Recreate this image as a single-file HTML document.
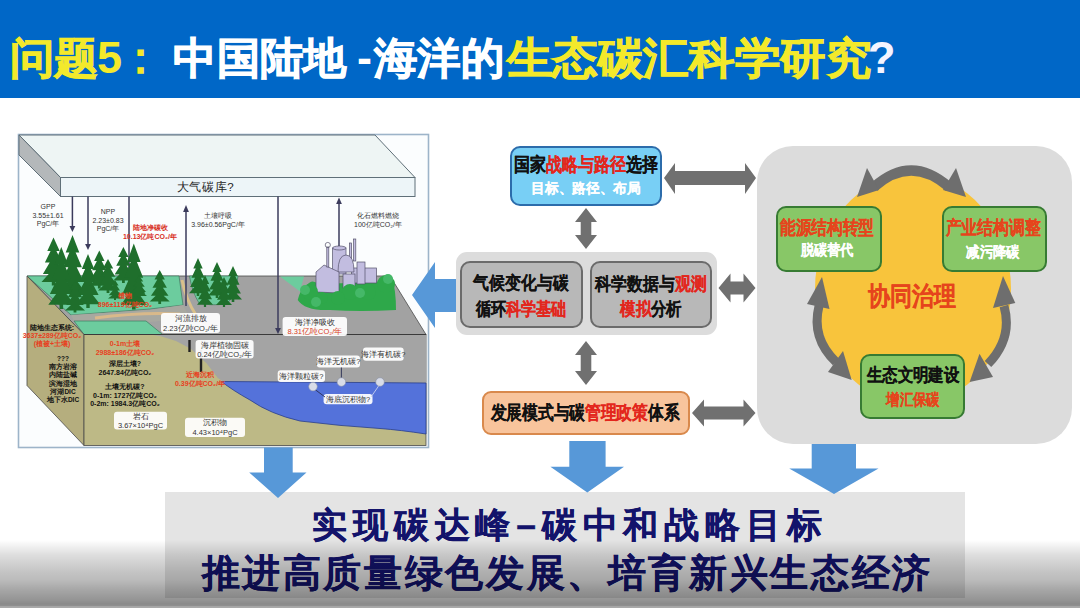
<!DOCTYPE html>
<html><head><meta charset="utf-8">
<style>
html,body{margin:0;padding:0;}
body{width:1080px;height:608px;overflow:hidden;position:relative;background:#ffffff;font-family:"Liberation Sans",sans-serif;}
.abs{position:absolute;}
#hdr{left:0;top:0;width:1080px;height:98px;background:#0067c7;}
#title{left:10px;top:26px;font-size:45px;font-weight:bold;color:#ffffff;white-space:nowrap;line-height:64px;}
.y{color:#f3e92b;}
.r{color:#e3261c;}
.k{color:#111111;}
.w{color:#ffffff;}
.bx{position:absolute;box-sizing:border-box;}
.ln{position:absolute;white-space:nowrap;text-align:center;font-weight:bold;transform-origin:50% 50%;}
#bb{left:165px;top:492px;width:800px;height:106px;background:#e4e4e4;}
#shade{left:0;top:540px;width:1080px;height:68px;background:linear-gradient(to bottom,rgba(0,0,0,0) 0px,rgba(0,0,0,0.07) 8px,rgba(0,0,0,0.13) 15px,rgba(0,0,0,0.185) 24px,rgba(0,0,0,0.23) 32px,rgba(0,0,0,0.265) 40px,rgba(0,0,0,0.35) 50px,rgba(0,0,0,0.42) 60px,rgba(0,0,0,0.46) 64px,rgba(0,0,0,0.44) 65.5px,rgba(0,0,0,0.35) 66.5px,rgba(0,0,0,0.33) 68px);}
</style></head>
<body>
<div id="hdr" class="abs"></div>
<div id="bb" class="abs"></div>
<div class="abs" style="left:97px;top:30px;width:30px;font-size:45px;line-height:56px;font-weight:bold;color:#f3e92b;transform:scaleX(1.0);">5</div>
<div class="abs" style="left:118px;top:30px;width:30px;font-size:45px;line-height:56px;font-weight:bold;color:#f3e92b;">：</div>
<div class="abs" style="left:357px;top:30px;width:20px;font-size:45px;line-height:56px;font-weight:bold;color:#fff;">-</div>
<div class="abs" style="left:868px;top:30px;width:30px;font-size:45px;line-height:56px;font-weight:bold;color:#f4f4ff;">?</div>

<svg class="abs" style="left:0;top:0" width="1080" height="608" viewBox="0 0 1080 608">
  <!-- DIAGRAM -->
  <g id="diagram">
<rect x="18.5" y="134.5" width="410" height="313" fill="#fbfdfe" stroke="#9db4c9" stroke-width="1.6"/>
<polygon points="19,135 375,135 415,177.5 60.5,177.5" fill="#eef5f4" stroke="#5f6f78" stroke-width="1"/>
<polygon points="19,135 60.5,177.5 60.5,196.5 19,155" fill="#b4b8ba" stroke="#5f6f78" stroke-width="1"/>
<rect x="60.5" y="177.5" width="354.5" height="19" fill="#edf5f8" stroke="#5f6f78" stroke-width="1"/>
<text x="205.5" y="190.5" font-size="11.5" letter-spacing="0.6" fill="#222" text-anchor="middle" font-family="Liberation Sans, sans-serif">大气碳库?</text>
<polygon points="27,276 390,276 426,334.5 84,334.5" fill="#a2a2a2" stroke="#4a4a4a" stroke-width="0.8"/>
<polygon points="27,276 179,276 183,305 150,309 71,315" fill="#6ccc9e" stroke="#3e7a5e" stroke-width="0.7"/>
<polygon points="71,315 150,310 183,305 190,318 150,322 74,321" fill="#a8a8a0"/>
<path d="M95,318 Q140,312 180,314" stroke="#d9b98a" stroke-width="3" fill="none"/>
<path d="M182,280 Q186,300 196,315" stroke="#d9c08a" stroke-width="3" fill="none"/>
<polygon points="74,321 146,321 162.6,334.5 84,334.5" fill="#6ccc9e" stroke="#3e7a5e" stroke-width="0.7"/>
<path d="M189.5,276 L238,276 Q236,296 226.5,304 Q210,306 199,303 Q192,292 189.5,276 Z" fill="#6ccc9e" stroke="#3e7a5e" stroke-width="0.7"/>
<polygon points="280,276.5 304,276.5 300,291.5" fill="#6ccc9e"/>
<polygon points="27,276 84,334.5 84,445.5 27,385.5" fill="#b5ae7e" stroke="#4a4a4a" stroke-width="0.8"/>
<rect x="84" y="334.5" width="342" height="111" fill="#bdb986" stroke="#4a4a4a" stroke-width="0.8"/>
<polygon points="150,334.5 426,334.5 426,383 224,382 217.8,378 206.7,363.5 190.7,348.7 176,341 160,336" fill="#a4a4a4"/>
<path d="M221.5,381.5 L426,383 L426,434 Q400,430 380,428.5 Q340,426 300,421 Q270,414 250,400 Q232,390 221.5,381.5 Z" fill="#5472da" stroke="#2a3f8a" stroke-width="0.8"/>
<line x1="84" y1="334.5" x2="426" y2="334.5" stroke="#3a3a3a" stroke-width="1"/>
<path d="M189.5,340 L189.5,352 M201,350 L201,372" stroke="#222" stroke-width="2.4"/>
<line x1="129" y1="196.5" x2="129" y2="290" stroke="#3b3b5c" stroke-width="1.5"/>
<polygon fill="#1f6f2c" points="53.5,237.5 59.7,250.9 56.4,250.9 62.1,262.5 57.3,262.5 64.1,274.0 58.3,274.0 65.5,282.1 55.2,282.1 55.2,285.5 51.8,285.5 51.8,282.1 41.5,282.1 48.7,274.0 42.9,274.0 49.7,262.5 44.9,262.5 50.6,250.9 47.3,250.9"/>
<polygon fill="#1f6f2c" points="72.5,235.0 79.3,252.4 75.6,252.4 81.9,267.2 76.7,267.2 83.9,282.1 77.7,282.1 85.5,292.7 74.3,292.7 74.3,297.0 70.7,297.0 70.7,292.7 59.5,292.7 67.3,282.1 61.1,282.1 68.3,267.2 63.1,267.2 69.4,252.4 65.7,252.4"/>
<polygon fill="#1f6f2c" points="61.3,247.0 68.1,264.4 64.4,264.4 70.7,279.2 65.5,279.2 72.7,294.1 66.5,294.1 74.3,304.7 63.1,304.7 63.1,309.0 59.5,309.0 59.5,304.7 48.3,304.7 56.1,294.1 49.9,294.1 57.1,279.2 51.9,279.2 58.2,264.4 54.5,264.4"/>
<polygon fill="#1f6f2c" points="88.0,254.0 94.2,269.1 90.9,269.1 96.6,282.1 91.8,282.1 98.6,295.0 92.8,295.0 100.0,304.2 89.7,304.2 89.7,308.0 86.3,308.0 86.3,304.2 76.0,304.2 83.2,295.0 77.4,295.0 84.2,282.1 79.4,282.1 85.1,269.1 81.8,269.1"/>
<polygon fill="#1f6f2c" points="99.3,250.4 104.5,261.0 101.7,261.0 106.5,270.2 102.5,270.2 108.1,279.3 103.3,279.3 109.3,285.7 100.7,285.7 100.7,288.4 97.9,288.4 97.9,285.7 89.3,285.7 95.3,279.3 90.5,279.3 96.1,270.2 92.1,270.2 96.9,261.0 94.1,261.0"/>
<polygon fill="#1f6f2c" points="108.0,259.0 113.2,268.5 110.4,268.5 115.2,276.7 111.2,276.7 116.8,284.8 112.0,284.8 118.0,290.6 109.4,290.6 109.4,293.0 106.6,293.0 106.6,290.6 98.0,290.6 104.0,284.8 99.2,284.8 104.8,276.7 100.8,276.7 105.6,268.5 102.8,268.5"/>
<polygon fill="#1f6f2c" points="123.4,247.0 128.6,257.1 125.8,257.1 130.6,265.7 126.6,265.7 132.2,274.4 127.4,274.4 133.4,280.5 124.8,280.5 124.8,283.0 122.0,283.0 122.0,280.5 113.4,280.5 119.4,274.4 114.6,274.4 120.2,265.7 116.2,265.7 121.0,257.1 118.2,257.1"/>
<polygon fill="#1f6f2c" points="133.8,243.5 140.6,262.0 136.9,262.0 143.2,277.8 138.0,277.8 145.2,293.7 139.0,293.7 146.8,304.9 135.6,304.9 135.6,309.5 132.0,309.5 132.0,304.9 120.8,304.9 128.6,293.7 122.4,293.7 129.6,277.8 124.4,277.8 130.7,262.0 127.0,262.0"/>
<polygon fill="#1f6f2c" points="159.7,270.0 164.9,279.5 162.1,279.5 166.9,287.7 162.9,287.7 168.5,295.8 163.7,295.8 169.7,301.6 161.1,301.6 161.1,304.0 158.3,304.0 158.3,301.6 149.7,301.6 155.7,295.8 150.9,295.8 156.5,287.7 152.5,287.7 157.3,279.5 154.5,279.5"/>
<polygon fill="#1f6f2c" points="75.0,280.6 80.2,289.6 77.4,289.6 82.2,297.2 78.2,297.2 83.8,304.9 79.0,304.9 85.0,310.4 76.4,310.4 76.4,312.6 73.6,312.6 73.6,310.4 65.0,310.4 71.0,304.9 66.2,304.9 71.8,297.2 67.8,297.2 72.6,289.6 69.8,289.6"/>
<polygon fill="#1f6f2c" points="139.0,275.4 143.2,281.6 140.9,281.6 144.8,286.8 141.6,286.8 146.0,292.1 142.2,292.1 147.0,295.9 140.1,295.9 140.1,297.4 137.9,297.4 137.9,295.9 131.0,295.9 135.8,292.1 132.0,292.1 136.4,286.8 133.2,286.8 137.1,281.6 134.8,281.6"/>
<polygon fill="#1f6f2c" points="115.0,280.0 118.6,285.6 116.7,285.6 120.0,290.4 117.2,290.4 121.2,295.2 117.8,295.2 122.0,298.6 116.0,298.6 116.0,300.0 114.0,300.0 114.0,298.6 108.0,298.6 112.2,295.2 108.8,295.2 112.8,290.4 110.0,290.4 113.3,285.6 111.4,285.6"/>
<polygon fill="#1f6f2c" points="198.0,258.0 202.7,268.6 200.2,268.6 204.5,277.8 200.9,277.8 205.9,286.9 201.6,286.9 207.0,293.3 199.3,293.3 199.3,296.0 196.7,296.0 196.7,293.3 189.0,293.3 194.4,286.9 190.1,286.9 195.1,277.8 191.5,277.8 195.8,268.6 193.3,268.6"/>
<polygon fill="#1f6f2c" points="217.0,262.0 221.7,272.1 219.2,272.1 223.5,280.7 219.9,280.7 224.9,289.4 220.6,289.4 226.0,295.5 218.3,295.5 218.3,298.0 215.7,298.0 215.7,295.5 208.0,295.5 213.4,289.4 209.1,289.4 214.1,280.7 210.5,280.7 214.8,272.1 212.3,272.1"/>
<polygon fill="#1f6f2c" points="233.0,266.0 237.7,276.1 235.2,276.1 239.5,284.7 235.9,284.7 240.9,293.4 236.6,293.4 242.0,299.5 234.3,299.5 234.3,302.0 231.7,302.0 231.7,299.5 224.0,299.5 229.4,293.4 225.1,293.4 230.1,284.7 226.5,284.7 230.8,276.1 228.3,276.1"/>
<polygon fill="#1f6f2c" points="205.0,275.0 209.2,284.0 206.9,284.0 210.8,291.6 207.6,291.6 212.0,299.3 208.2,299.3 213.0,304.8 206.1,304.8 206.1,307.0 203.9,307.0 203.9,304.8 197.0,304.8 201.8,299.3 198.0,299.3 202.4,291.6 199.2,291.6 203.1,284.0 200.8,284.0"/>
<polygon fill="#1f6f2c" points="224.0,277.0 228.2,285.4 225.9,285.4 229.8,292.6 226.6,292.6 231.0,299.8 227.2,299.8 232.0,304.9 225.1,304.9 225.1,307.0 222.9,307.0 222.9,304.9 216.0,304.9 220.8,299.8 217.0,299.8 221.4,292.6 218.2,292.6 222.1,285.4 219.8,285.4"/>
<path d="M297.7,300 Q300,290 306,286 Q312,278 318,284 L380,282 Q386,272 392,278 Q396,290 396,310 Q360,312 330,310 Q305,311 297.7,300 Z" fill="#2ea84a"/>
<g fill="#c2bde0" stroke="#55526a" stroke-width="0.7"><rect x="351.5" y="268" width="25" height="15"/><rect x="349.4" y="243" width="2.2" height="16"/><rect x="353.6" y="239" width="2.2" height="22"/><rect x="332.6" y="248" width="13.4" height="26"/><ellipse cx="339.3" cy="248" rx="6.7" ry="2"/><path d="M338,272 Q338,255 346,255 Q354,255 354,272 Z"/><rect x="357" y="262" width="8" height="22"/><polygon points="316,292 316,272 324,265 339,272 339,293"/><rect x="326.8" y="247" width="2" height="20"/><circle cx="327.8" cy="245" r="2.6" fill="none"/><rect x="343" y="274" width="12" height="14"/></g>
<g fill="#2ea84a"><circle cx="310" cy="292" r="8"/><circle cx="386" cy="284" r="9"/><circle cx="350" cy="292" r="8"/><circle cx="338" cy="298" r="7"/><circle cx="368" cy="292" r="8"/><circle cx="322" cy="298" r="6"/></g>
<g fill="#45b868"><circle cx="305" cy="290" r="5"/><circle cx="388" cy="279" r="5"/><circle cx="360" cy="293" r="5"/><circle cx="316" cy="302" r="5"/></g>
<g stroke="#3b3b5c" stroke-width="1.5" fill="#3b3b5c"><line x1="72.4" y1="196.5" x2="72.4" y2="228"/><polygon points="69.5,226 75.3,226 72.4,232" stroke="none"/><line x1="88" y1="196.5" x2="88" y2="246"/><polygon points="85.1,244 90.9,244 88,250" stroke="none"/><line x1="186" y1="210" x2="186" y2="306"/><polygon points="183.1,212 188.9,212 186,205" stroke="none"/><line x1="278" y1="196.5" x2="278" y2="330"/><polygon points="275.1,328 280.9,328 278,334" stroke="none"/><line x1="339" y1="202" x2="339" y2="246"/><polygon points="336.1,204 341.9,204 339,197.5" stroke="none"/></g>
<rect x="161.0" y="313.0" width="59.0" height="20.0" rx="3" fill="#ffffff" fill-opacity="0.93"/><text x="190.5" y="320.9" font-size="7.5" fill="#333" text-anchor="middle" font-family="Liberation Sans, sans-serif">河流排放</text><text x="190.5" y="330.9" font-size="7.5" fill="#333" text-anchor="middle" font-family="Liberation Sans, sans-serif">2.23亿吨CO₂/年</text>
<rect x="282.6" y="317.0" width="64.4" height="19.0" rx="3" fill="#ffffff" fill-opacity="0.93"/><text x="314.8" y="324.6" font-size="7.5" fill="#333" text-anchor="middle" font-family="Liberation Sans, sans-serif">海洋净吸收</text><text x="314.8" y="334.1" font-size="7.5" fill="#d83a20" text-anchor="middle" font-family="Liberation Sans, sans-serif">8.31亿吨CO₂/年</text>
<rect x="195.6" y="340.0" width="58.0" height="18.6" rx="3" fill="#ffffff" fill-opacity="0.93"/><text x="224.6" y="347.5" font-size="7.5" fill="#333" text-anchor="middle" font-family="Liberation Sans, sans-serif">海岸植物固碳</text><text x="224.6" y="356.8" font-size="7.5" fill="#333" text-anchor="middle" font-family="Liberation Sans, sans-serif">0.24亿吨CO₂/年</text>
<rect x="316.8" y="355.5" width="43.2" height="11.9" rx="3" fill="#ffffff" fill-opacity="0.93"/><text x="338.4" y="364.3" font-size="7.5" fill="#333" text-anchor="middle" font-family="Liberation Sans, sans-serif">海洋无机碳?</text>
<rect x="363.0" y="347.6" width="40.7" height="13.2" rx="3" fill="#ffffff" fill-opacity="0.93"/><text x="383.4" y="357.1" font-size="7.5" fill="#333" text-anchor="middle" font-family="Liberation Sans, sans-serif">海洋有机碳?</text>
<rect x="277.7" y="370.3" width="47.3" height="11.7" rx="3" fill="#ffffff" fill-opacity="0.93"/><text x="301.4" y="379.0" font-size="7.5" fill="#333" text-anchor="middle" font-family="Liberation Sans, sans-serif">海洋颗粒碳?</text>
<rect x="323.6" y="394.0" width="48.9" height="10.3" rx="3" fill="#ffffff" fill-opacity="0.93"/><text x="348.1" y="402.0" font-size="7.5" fill="#333" text-anchor="middle" font-family="Liberation Sans, sans-serif">海底沉积物?</text>
<rect x="114.0" y="411.7" width="53.0" height="17.8" rx="3" fill="#ffffff" fill-opacity="0.93"/><text x="140.5" y="419.0" font-size="7.5" fill="#333" text-anchor="middle" font-family="Liberation Sans, sans-serif">岩石</text><text x="140.5" y="427.9" font-size="7.5" fill="#333" text-anchor="middle" font-family="Liberation Sans, sans-serif">3.67×10⁴PgC</text>
<rect x="185.0" y="417.7" width="60.0" height="19.3" rx="3" fill="#ffffff" fill-opacity="0.93"/><text x="215.0" y="425.4" font-size="7.5" fill="#333" text-anchor="middle" font-family="Liberation Sans, sans-serif">沉积物</text><text x="215.0" y="435.0" font-size="7.5" fill="#333" text-anchor="middle" font-family="Liberation Sans, sans-serif">4.43×10⁴PgC</text>
<g stroke="#2a2f55" stroke-width="0.9" fill="none"><path d="M313,388 L325,397"/><path d="M341.4,382 L341.4,367.5"/><path d="M380,384 L371,397" stroke="#c8d0ee"/></g>
<g fill="#d8dce8" stroke="#8890a8" stroke-width="0.6"><circle cx="313" cy="386.6" r="4.3"/><circle cx="341.4" cy="382" r="4.3"/><circle cx="380" cy="382" r="4.3"/></g>
<text x="48.0" y="209.0" font-size="7.0" fill="#333" text-anchor="middle" font-weight="normal" font-family="Liberation Sans, sans-serif">GPP</text><text x="48.0" y="217.5" font-size="7.0" fill="#333" text-anchor="middle" font-weight="normal" font-family="Liberation Sans, sans-serif">3.55±1.61</text><text x="48.0" y="226.0" font-size="7.0" fill="#333" text-anchor="middle" font-weight="normal" font-family="Liberation Sans, sans-serif">PgC/年</text>
<text x="108.0" y="214.0" font-size="7.0" fill="#333" text-anchor="middle" font-weight="normal" font-family="Liberation Sans, sans-serif">NPP</text><text x="108.0" y="222.5" font-size="7.0" fill="#333" text-anchor="middle" font-weight="normal" font-family="Liberation Sans, sans-serif">2.23±0.83</text><text x="108.0" y="231.0" font-size="7.0" fill="#333" text-anchor="middle" font-weight="normal" font-family="Liberation Sans, sans-serif">PgC/年</text>
<text x="150.0" y="230.0" font-size="7.0" fill="#d8301e" text-anchor="middle" font-weight="bold" font-family="Liberation Sans, sans-serif">陆地净碳收</text><text x="150.0" y="238.5" font-size="7.0" fill="#d8301e" text-anchor="middle" font-weight="bold" font-family="Liberation Sans, sans-serif">10.13亿吨CO₂/年</text>
<text x="218.0" y="218.0" font-size="7.0" fill="#333" text-anchor="middle" font-weight="normal" font-family="Liberation Sans, sans-serif">土壤呼吸</text><text x="218.0" y="226.5" font-size="7.0" fill="#333" text-anchor="middle" font-weight="normal" font-family="Liberation Sans, sans-serif">3.96±0.56PgC/年</text>
<text x="378.0" y="218.0" font-size="7.0" fill="#333" text-anchor="middle" font-weight="normal" font-family="Liberation Sans, sans-serif">化石燃料燃烧</text><text x="378.0" y="226.5" font-size="7.0" fill="#333" text-anchor="middle" font-weight="normal" font-family="Liberation Sans, sans-serif">100亿吨CO₂/年</text>
<text x="125.0" y="298.0" font-size="7.0" fill="#e8401e" text-anchor="middle" font-weight="bold" font-family="Liberation Sans, sans-serif">植物</text><text x="125.0" y="306.5" font-size="7.0" fill="#e8401e" text-anchor="middle" font-weight="bold" font-family="Liberation Sans, sans-serif">896±119亿吨CO₂</text>
<text x="52.0" y="330.0" font-size="7.0" fill="#111" text-anchor="middle" font-weight="bold" font-family="Liberation Sans, sans-serif">陆地生态系统:</text><text x="52.0" y="338.0" font-size="7.0" fill="#e8401e" text-anchor="middle" font-weight="bold" font-family="Liberation Sans, sans-serif">3637±289亿吨CO₂</text><text x="52.0" y="346.0" font-size="7.0" fill="#e8401e" text-anchor="middle" font-weight="bold" font-family="Liberation Sans, sans-serif">(植被+土壤)</text>
<text x="125.0" y="346.0" font-size="7.0" fill="#e8401e" text-anchor="middle" font-weight="bold" font-family="Liberation Sans, sans-serif">0-1m土壤</text><text x="125.0" y="354.5" font-size="7.0" fill="#e8401e" text-anchor="middle" font-weight="bold" font-family="Liberation Sans, sans-serif">2988±186亿吨CO₂</text>
<text x="125.0" y="366.0" font-size="7.0" fill="#111" text-anchor="middle" font-weight="bold" font-family="Liberation Sans, sans-serif">深层土壤?</text><text x="125.0" y="374.5" font-size="7.0" fill="#111" text-anchor="middle" font-weight="bold" font-family="Liberation Sans, sans-serif">2647.84亿吨CO₂</text>
<text x="63.0" y="361.0" font-size="6.5" fill="#111" text-anchor="middle" font-weight="bold" font-family="Liberation Sans, sans-serif">???</text><text x="63.0" y="369.2" font-size="6.5" fill="#111" text-anchor="middle" font-weight="bold" font-family="Liberation Sans, sans-serif">南方岩溶</text><text x="63.0" y="377.4" font-size="6.5" fill="#111" text-anchor="middle" font-weight="bold" font-family="Liberation Sans, sans-serif">内陆盐碱</text><text x="63.0" y="385.6" font-size="6.5" fill="#111" text-anchor="middle" font-weight="bold" font-family="Liberation Sans, sans-serif">滨海湿地</text><text x="63.0" y="393.8" font-size="6.5" fill="#111" text-anchor="middle" font-weight="bold" font-family="Liberation Sans, sans-serif">河湖DIC</text><text x="63.0" y="402.0" font-size="6.5" fill="#111" text-anchor="middle" font-weight="bold" font-family="Liberation Sans, sans-serif">地下水DIC</text>
<text x="125.0" y="389.0" font-size="7.0" fill="#111" text-anchor="middle" font-weight="bold" font-family="Liberation Sans, sans-serif">土壤无机碳?</text><text x="125.0" y="397.5" font-size="7.0" fill="#111" text-anchor="middle" font-weight="bold" font-family="Liberation Sans, sans-serif">0-1m: 1727亿吨CO₂</text><text x="125.0" y="406.0" font-size="7.0" fill="#111" text-anchor="middle" font-weight="bold" font-family="Liberation Sans, sans-serif">0-2m: 1984.3亿吨CO₂</text>
<text x="200.0" y="377.0" font-size="7.0" fill="#e8401e" text-anchor="middle" font-weight="bold" font-family="Liberation Sans, sans-serif">近海沉积</text><text x="200.0" y="385.5" font-size="7.0" fill="#e8401e" text-anchor="middle" font-weight="bold" font-family="Liberation Sans, sans-serif">0.39亿吨CO₂/年</text>
</g><!--END DIAGRAM-->
  <!-- blue arrows -->
  <g fill="#5798d8">
    <polygon points="412,295 435,262 435,279 456,279 456,312 435,312 435,328"/>
    <polygon points="264,447.5 292.7,447.5 292.7,472.6 306.5,472.6 278,498 249.2,472.6 264,472.6"/>
    <polygon points="569.3,441 605.6,441 605.6,466.8 624,466.8 587.3,492.5 550.4,466.8 569.3,466.8"/>
    <polygon points="811.7,443 856,443 856,468.4 878.5,468.4 834,494 789.2,468.4 811.7,468.4"/>
  </g>
  <!-- gray double arrows -->
  <g fill="#707070">
    <polygon points="664,178 675,163 675,171 745,171 745,163 756,178 745,194 745,185 675,185 675,194"/>
    <polygon points="718.5,288 730.5,273.5 730.5,281.5 743.5,281.5 743.5,273.5 755.5,288 743.5,302.5 743.5,294.5 730.5,294.5 730.5,302.5"/>
    <polygon points="692,413 704,399.5 704,406.5 743.5,406.5 743.5,399.5 755.5,413 743.5,426.5 743.5,419.5 704,419.5 704,426.5"/>
    <polygon points="586,208 597,222 591.3,222 591.3,235 597,235 586,249 575,235 580.7,235 580.7,222 575,222"/>
    <polygon points="586,341 597,355 591.3,355 591.3,371 597,371 586,385 575,371 580.7,371 580.7,355 575,355"/>
  </g>
  <!-- right panel -->
  <rect x="757" y="146" width="315" height="298" rx="36" fill="#dcdcdc"/>
  <ellipse cx="913" cy="289" rx="98" ry="115" fill="#f8c43c"/>
  <g fill="#6e6e6e" stroke="none">
    <path d="M874,187 Q911,154 949,187" stroke="#6e6e6e" stroke-width="10" fill="none"/>
    <polygon points="867,168 857,197 879,190"/>
    <polygon points="956,168 966,197 943,190"/>
    <path d="M819,306 Q811,338 836,362" stroke="#6e6e6e" stroke-width="9" fill="none"/>
    <polygon points="822,277 807,304 829.5,309"/>
    <polygon points="851.7,380 828,372 843,351"/>
    <path d="M1004,306 Q1013,338 988,364" stroke="#6e6e6e" stroke-width="9" fill="none"/>
    <polygon points="1003,276 993,308 1015.3,303"/>
    <polygon points="969.6,382 979.5,353.7 993,377"/>
  </g>
</svg>

<!-- flowchart boxes -->
<div class="bx" style="left:510px;top:146px;width:152px;height:60px;background:#78cff5;border:2.5px solid #2c6cab;border-radius:10px;"></div>
<div class="bx" style="left:456px;top:252px;width:261px;height:83px;background:#dcdcdc;border-radius:11px;"></div>
<div class="bx" style="left:460px;top:261px;width:123px;height:67px;background:#b8b8b8;border:2px solid #6b6b6b;border-radius:10px;"></div>
<div class="bx" style="left:590px;top:261px;width:122px;height:67px;background:#b8b8b8;border:2px solid #6b6b6b;border-radius:10px;"></div>
<div class="bx" style="left:482px;top:391px;width:208px;height:44px;background:#f8c49c;border:2px solid #d9894c;border-radius:9px;"></div>
<div class="bx" style="left:776px;top:205.5px;width:106px;height:66px;background:#88c767;border:2.5px solid #377b33;border-radius:10px;"></div>
<div class="bx" style="left:942px;top:205.5px;width:105px;height:66px;background:#88c767;border:2.5px solid #377b33;border-radius:10px;"></div>
<div class="bx" style="left:860px;top:353.5px;width:105px;height:65px;background:#88c767;border:2.5px solid #377b33;border-radius:10px;"></div>
<!--TEXT-->
<div class="ln" style="left:-546.5px;top:24.2px;width:1200px;font-size:42.65px;line-height:68px;transform:scaleX(1.030);-webkit-text-stroke:0.90px;letter-spacing:0.00px;"><span style="color:#f3e92b">问题</span></div>
<div class="ln" style="left:-340.0px;top:24.2px;width:1200px;font-size:42.65px;line-height:68px;transform:scaleX(1.007);-webkit-text-stroke:0.90px;letter-spacing:0.00px;"><span style="color:#fff">中国陆地</span></div>
<div class="ln" style="left:-161.0px;top:24.2px;width:1200px;font-size:42.65px;line-height:68px;transform:scaleX(1.011);-webkit-text-stroke:0.90px;letter-spacing:0.00px;"><span style="color:#fff">海洋的</span></div>
<div class="ln" style="left:88.9px;top:24.2px;width:1200px;font-size:42.65px;line-height:68px;transform:scaleX(1.059);-webkit-text-stroke:0.90px;letter-spacing:0.00px;"><span style="color:#f3e92b">生态碳汇科学研究</span></div>
<div class="ln" style="left:-13.9px;top:150.1px;width:1200px;font-size:18.53px;line-height:30px;transform:scaleX(0.844);-webkit-text-stroke:0.15px;letter-spacing:0.00px;"><span style="color:#111">国家</span><span style="color:#e3261c">战略与路径</span><span style="color:#111">选择</span></div>
<div class="ln" style="left:-13.9px;top:177.1px;width:1200px;font-size:14.41px;line-height:23px;transform:scaleX(0.978);-webkit-text-stroke:0.15px;letter-spacing:0.00px;"><span style="color:#fff">目标、路径、布局</span></div>
<div class="ln" style="left:-78.9px;top:268.9px;width:1200px;font-size:17.65px;line-height:28px;transform:scaleX(0.880);-webkit-text-stroke:0.15px;letter-spacing:0.00px;"><span style="color:#111">气候变化与碳</span></div>
<div class="ln" style="left:-79.0px;top:293.8px;width:1200px;font-size:18.43px;line-height:29px;transform:scaleX(0.840);-webkit-text-stroke:0.15px;letter-spacing:0.00px;"><span style="color:#111">循环</span><span style="color:#e3261c">科学基础</span></div>
<div class="ln" style="left:51.1px;top:269.7px;width:1200px;font-size:17.65px;line-height:28px;transform:scaleX(0.881);-webkit-text-stroke:0.15px;letter-spacing:0.00px;"><span style="color:#111">科学数据与</span><span style="color:#e3261c">观测</span></div>
<div class="ln" style="left:51.0px;top:293.8px;width:1200px;font-size:18.43px;line-height:29px;transform:scaleX(0.856);-webkit-text-stroke:0.15px;letter-spacing:0.00px;"><span style="color:#e3261c">模拟</span><span style="color:#111">分析</span></div>
<div class="ln" style="left:-15.0px;top:398.0px;width:1200px;font-size:18.82px;line-height:30px;transform:scaleX(0.828);-webkit-text-stroke:0.15px;letter-spacing:0.00px;"><span style="color:#111">发展模式与碳</span><span style="color:#e3261c">管理政策</span><span style="color:#111">体系</span></div>
<div class="ln" style="left:226.5px;top:213.1px;width:1200px;font-size:18.73px;line-height:30px;transform:scaleX(0.826);-webkit-text-stroke:0.15px;letter-spacing:0.00px;"><span style="color:#e6441c">能源结构转型</span></div>
<div class="ln" style="left:226.8px;top:238.2px;width:1200px;font-size:15.20px;line-height:24px;transform:scaleX(0.882);-webkit-text-stroke:0.15px;letter-spacing:0.00px;"><span style="color:#fff">脱碳替代</span></div>
<div class="ln" style="left:393.0px;top:213.1px;width:1200px;font-size:18.73px;line-height:30px;transform:scaleX(0.832);-webkit-text-stroke:0.15px;letter-spacing:0.00px;"><span style="color:#e6441c">产业结构调整</span></div>
<div class="ln" style="left:393.2px;top:239.5px;width:1200px;font-size:15.10px;line-height:24px;transform:scaleX(0.895);-webkit-text-stroke:0.15px;letter-spacing:0.00px;"><span style="color:#fff">减污降碳</span></div>
<div class="ln" style="left:313.2px;top:361.4px;width:1200px;font-size:18.04px;line-height:29px;transform:scaleX(0.860);-webkit-text-stroke:0.15px;letter-spacing:0.00px;"><span style="color:#111">生态文明建设</span></div>
<div class="ln" style="left:312.9px;top:385.6px;width:1200px;font-size:16.08px;line-height:26px;transform:scaleX(0.837);-webkit-text-stroke:0.15px;letter-spacing:0.00px;"><span style="color:#e6441c">增汇保碳</span></div>
<div class="ln" style="left:311.8px;top:275.3px;width:1200px;font-size:26.08px;line-height:42px;transform:scaleX(0.848);-webkit-text-stroke:0.15px;letter-spacing:0.00px;"><span style="color:#e6441c">协同治理</span></div>
<div class="ln" style="left:-30.2px;top:496.6px;width:1200px;font-size:35.49px;line-height:57px;transform:scaleX(1.000);-webkit-text-stroke:0.30px;letter-spacing:5.80px;"><span style="color:#13136b">实现碳达峰–碳中和战略目标</span></div>
<div class="ln" style="left:-32.8px;top:542.5px;width:1200px;font-size:37.75px;line-height:60px;transform:scaleX(1.000);-webkit-text-stroke:0.30px;letter-spacing:2.63px;"><span style="color:#13136b">推进高质量绿色发展、培育新兴生态经济</span></div>
<!--/TEXT-->
<div id="shade" class="abs"></div>
</body></html>
